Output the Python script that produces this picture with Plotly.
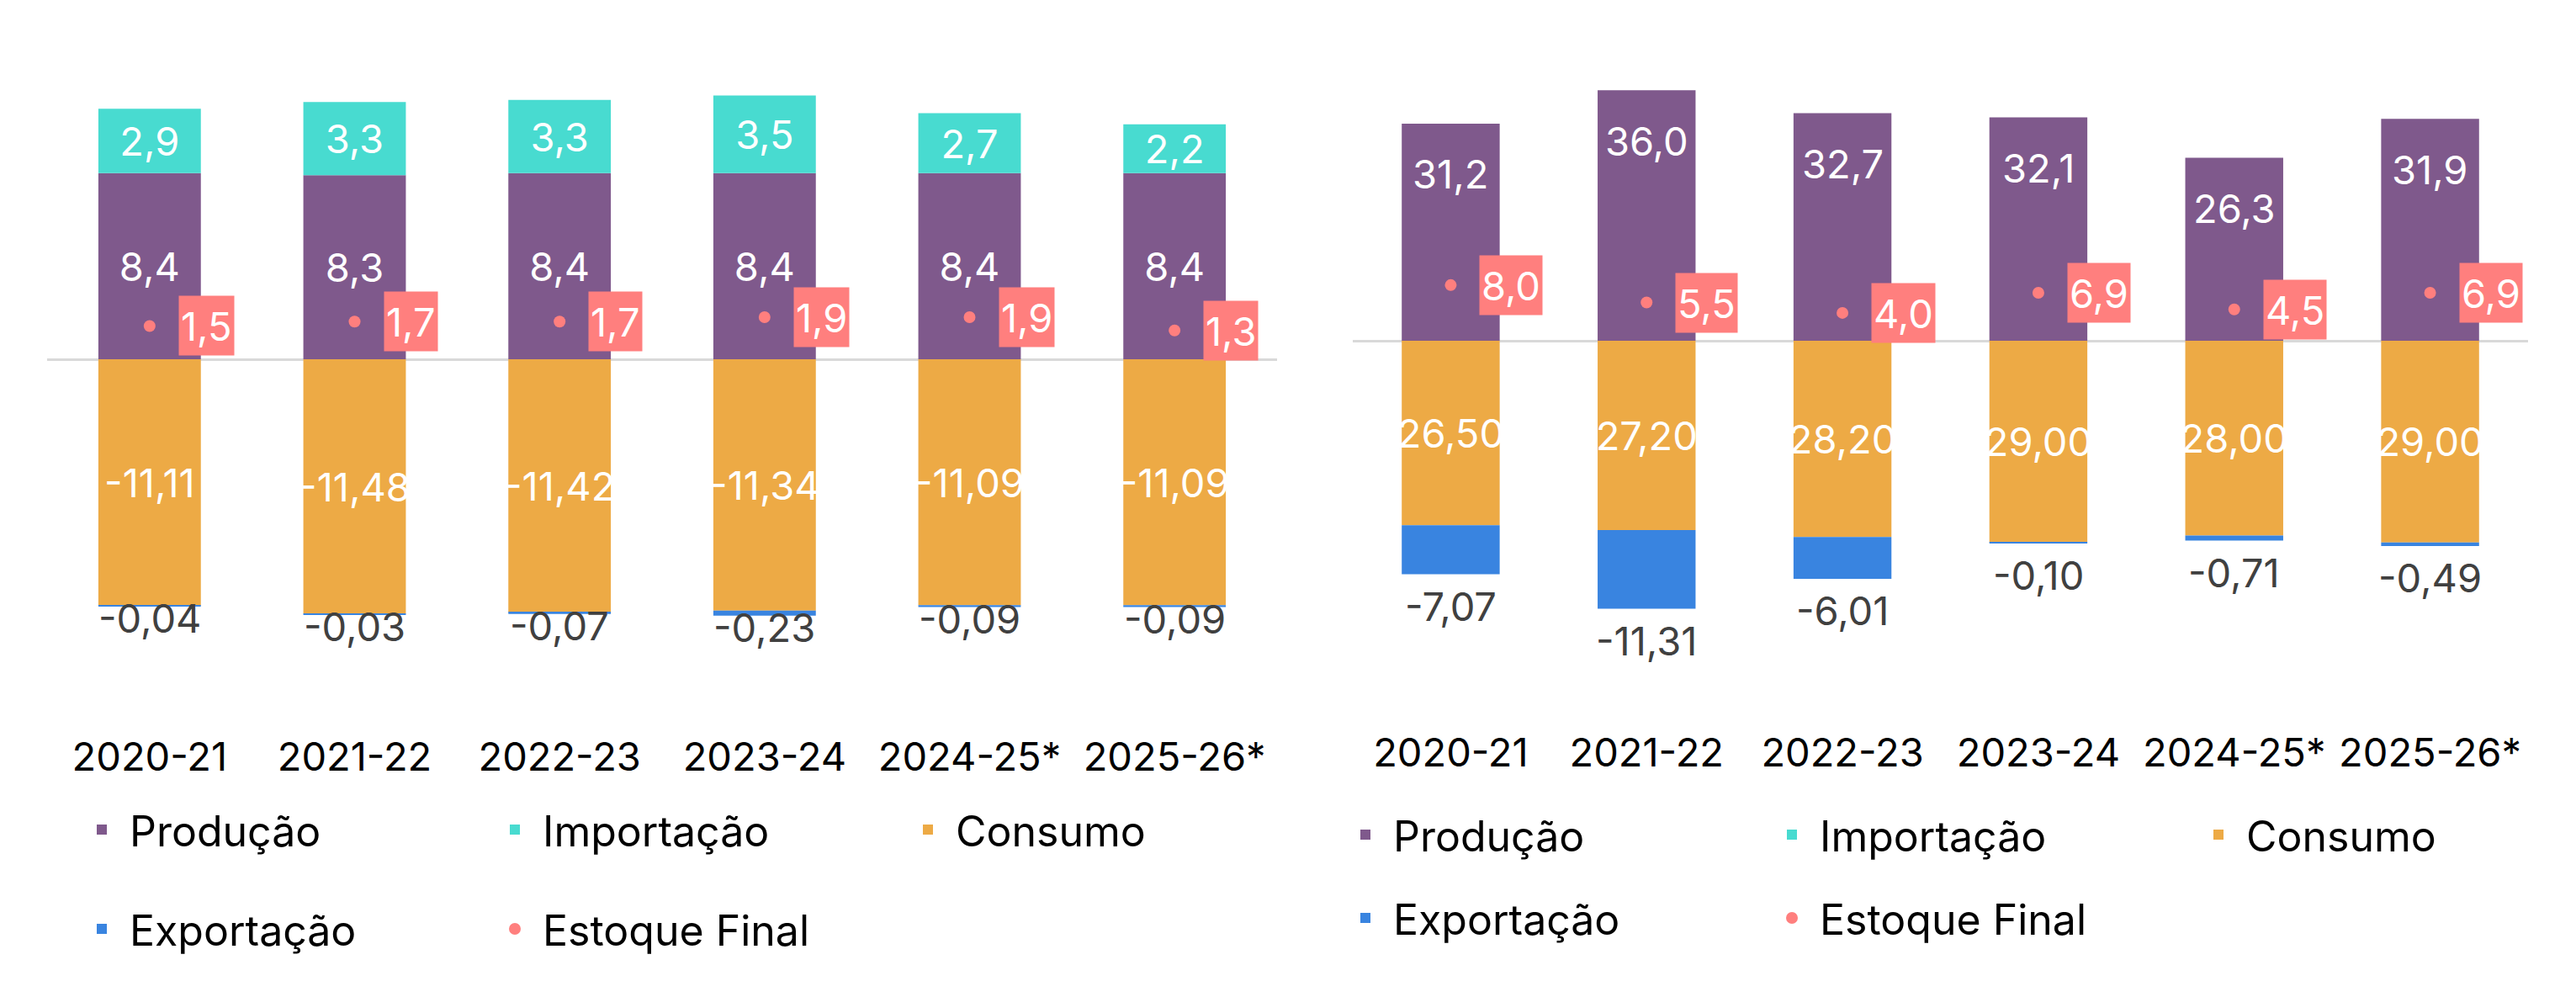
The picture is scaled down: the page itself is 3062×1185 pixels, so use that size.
import plotly.graph_objects as go

# ---------------- data ----------------
categories = ["2020-21", "2021-22", "2022-23", "2023-24", "2024-25*", "2025-26*"]

# left panel
producao_esq = [8.4, 8.3, 8.4, 8.4, 8.4, 8.4]
importacao_esq = [2.9, 3.3, 3.3, 3.5, 2.7, 2.2]
consumo_esq = [-11.11, -11.48, -11.42, -11.34, -11.09, -11.09]
exportacao_esq = [-0.04, -0.03, -0.07, -0.23, -0.09, -0.09]
estoque_esq = [1.5, 1.7, 1.7, 1.9, 1.9, 1.3]

# right panel
producao_dir = [31.2, 36.0, 32.7, 32.1, 26.3, 31.9]
importacao_dir = [0, 0, 0, 0, 0, 0]
consumo_dir = [-26.50, -27.20, -28.20, -29.00, -28.00, -29.00]
exportacao_dir = [-7.07, -11.31, -6.01, -0.10, -0.71, -0.49]
estoque_dir = [8.0, 5.5, 4.0, 6.9, 4.5, 6.9]

# ---------------- style ----------------
W, H = 3062, 1185
FONT = "Inter"
C_PROD = "#7F598C"
C_IMP = "#48DBD0"
C_CONS = "#EDAA45"
C_EXP = "#3984E0"
C_EST = "#FF7F7E"
LABEL_SIZE = 47


def br(v, d):
    return f"{v:.{d}f}".replace(".", ",")


fig = go.Figure()


def add_panel(xa, ya, prod, imp, cons, exp, est, leg_a, leg_b, left):
    fig.add_trace(go.Bar(
        x=categories, y=prod, name="Produção", marker=dict(color=C_PROD, line=dict(width=0)),
        text=[br(v, 1) for v in prod] if left else None,
        textposition="inside", insidetextanchor="middle", textangle=0,
        insidetextfont=dict(color="white", size=LABEL_SIZE, family=FONT),
        constraintext="none", xaxis=xa, yaxis=ya, legend=leg_a))
    fig.add_trace(go.Bar(
        x=categories, y=imp, name="Importação", marker=dict(color=C_IMP, line=dict(width=0)),
        text=[br(v, 1) if v else "" for v in imp],
        textposition="inside", insidetextanchor="middle", textangle=0,
        insidetextfont=dict(color="white", size=LABEL_SIZE, family=FONT),
        constraintext="none", xaxis=xa, yaxis=ya, legend=leg_a))
    fig.add_trace(go.Bar(
        x=categories, y=cons, name="Consumo", marker=dict(color=C_CONS, line=dict(width=0)),
        text=[br(v, 2) if left else br(abs(v), 2) for v in cons],
        textposition="inside", insidetextanchor="middle", textangle=0,
        insidetextfont=dict(color="white", size=LABEL_SIZE, family=FONT),
        constraintext="none", xaxis=xa, yaxis=ya, legend=leg_a))
    fig.add_trace(go.Bar(
        x=categories, y=exp, name="Exportação", marker=dict(color=C_EXP, line=dict(width=0)),
        xaxis=xa, yaxis=ya, legend=leg_b))
    fig.add_trace(go.Scatter(
        x=categories, y=est, name="Estoque Final", mode="markers",
        marker=dict(color=C_EST, size=14), xaxis=xa, yaxis=ya, legend=leg_b))

    xref = "x" if xa == "x" else "x2"
    yref = "y" if ya == "y" else "y2"
    # stock labels in salmon boxes
    for c, v in zip(categories, est):
        fig.add_annotation(x=c, y=v, xref=xref, yref=yref, text=br(v, 1),
                           showarrow=False, xanchor="left", yanchor="middle", xshift=34,
                           bgcolor=C_EST, borderpad=2, height=66,
                           font=dict(color="white", size=LABEL_SIZE, family=FONT))
    # export labels below the stacks
    for c, a, b in zip(categories, cons, exp):
        fig.add_annotation(x=c, y=a + b, xref=xref, yref=yref, text=br(b, 2),
                           showarrow=False, xanchor="center", yanchor="middle",
                           yshift=-14 if left else -38,
                           font=dict(color="#404040", size=LABEL_SIZE, family=FONT))
    if not left:
        for c, v in zip(categories, prod):
            fig.add_annotation(x=c, y=v, xref=xref, yref=yref, text=br(v, 1),
                               showarrow=False, xanchor="center", yanchor="middle", yshift=-60,
                               font=dict(color="white", size=LABEL_SIZE, family=FONT))


add_panel("x", "y", producao_esq, importacao_esq, consumo_esq, exportacao_esq, estoque_esq,
          "legend", "legend2", True)
add_panel("x2", "y2", producao_dir, importacao_dir, consumo_dir, exportacao_dir, estoque_dir,
          "legend3", "legend4", False)

# pixel geometry of the two plot areas
L_BOTTOM, L_ZERO, L_SCALE = 868, 427, 26.35
R_BOTTOM, R_ZERO, R_SCALE = 863, 405, 8.27

axis_common = dict(showgrid=False, showticklabels=False, ticks="", automargin=False,
                   zeroline=True, zerolinecolor="#D9D9D9", zerolinewidth=3, showline=False)
xaxis_common = dict(showgrid=False, zeroline=False, showline=False, ticks="",
                    automargin=False, tickangle=0,
                    tickfont=dict(size=47, color="#000000", family=FONT), type="category")

legend_common = dict(orientation="h", xanchor="left", yanchor="middle",
                     bgcolor="rgba(0,0,0,0)", borderwidth=0, itemwidth=56,
                     entrywidthmode="pixels", traceorder="normal",
                     font=dict(size=50, color="#000000", family=FONT))

fig.update_layout(
    width=W, height=H,
    margin=dict(l=0, r=0, t=0, b=0, autoexpand=False),
    paper_bgcolor="white", plot_bgcolor="white",
    barmode="relative", bargap=0.5,
    font=dict(family=FONT),
    xaxis=dict(domain=[56 / W, 1518 / W], anchor="y", **xaxis_common),
    yaxis=dict(domain=[1 - L_BOTTOM / H, 1], anchor="x",
               range=[-(L_BOTTOM - L_ZERO) / L_SCALE, L_ZERO / L_SCALE], **axis_common),
    xaxis2=dict(domain=[1608 / W, 3005 / W], anchor="y2", **xaxis_common),
    yaxis2=dict(domain=[1 - R_BOTTOM / H, 1], anchor="x2",
                range=[-(R_BOTTOM - R_ZERO) / R_SCALE, R_ZERO / R_SCALE], **axis_common),
    legend=dict(x=88 / W, y=1 - 986 / H, entrywidth=420, **legend_common),
    legend2=dict(x=88 / W, y=1 - 1104 / H, entrywidth=420, **legend_common),
    legend3=dict(x=1590 / W, y=1 - 992 / H, entrywidth=436, **legend_common),
    legend4=dict(x=1590 / W, y=1 - 1091 / H, entrywidth=436, **legend_common),
)

fig.write_html("out.html",
               config={"displayModeBar": False},
               post_script="document.body.style.margin='0';document.body.style.padding='0';")
